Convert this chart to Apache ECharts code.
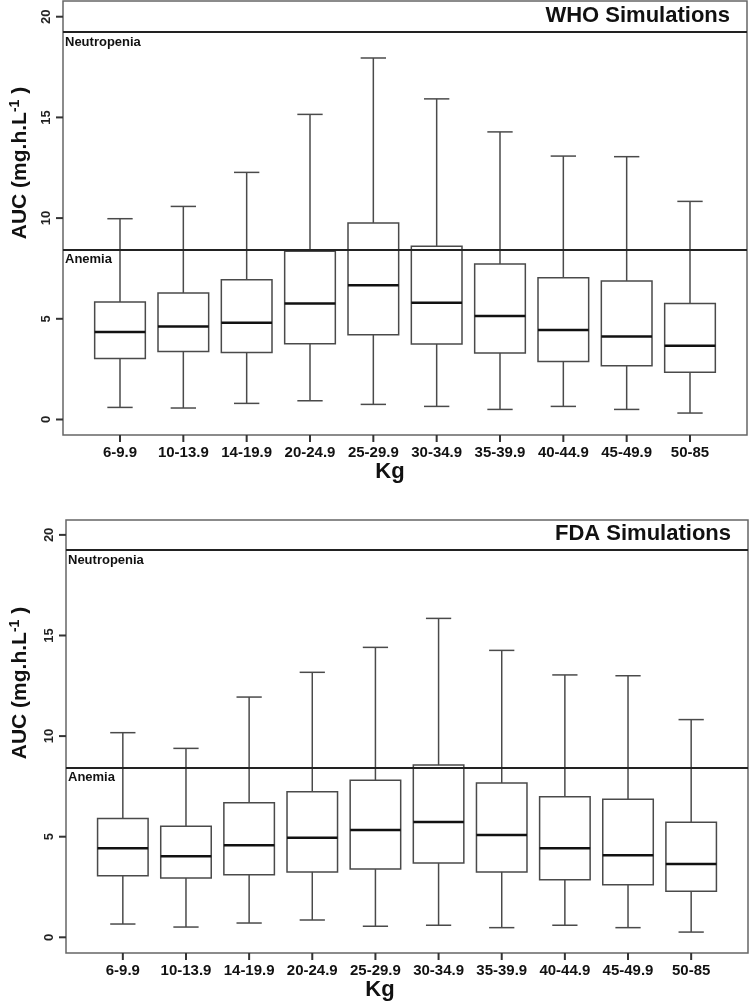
<!DOCTYPE html>
<html>
<head>
<meta charset="utf-8">
<script src="https://cdn.jsdelivr.net/npm/echarts@6/dist/echarts.min.js"></script>
<style>
html,body{margin:0;padding:0;background:#fff;}
#chart{width:750px;height:1006px;}
</style>
</head>
<body>
<div id="chart"></div>
<script>
// ---- Data ----
const categories = ['6-9.9','10-13.9','14-19.9','20-24.9','25-29.9','30-34.9','35-39.9','40-44.9','45-49.9','50-85'];
const yTicks = [0, 5, 10, 15, 20];

const whoMin = [0.60, 0.57, 0.80, 0.93, 0.75, 0.65, 0.50, 0.65, 0.50, 0.32];
const whoQ1  = [3.03, 3.38, 3.33, 3.76, 4.21, 3.75, 3.30, 2.88, 2.67, 2.35];
const whoMed = [4.34, 4.62, 4.80, 5.76, 6.66, 5.80, 5.14, 4.44, 4.12, 3.66];
const whoQ3  = [5.83, 6.28, 6.94, 8.35, 9.76, 8.60, 7.72, 7.04, 6.88, 5.76];
const whoMax = [9.97, 10.58, 12.27, 15.15, 17.95, 15.92, 14.28, 13.08, 13.05, 10.83];

const fdaMin = [0.66, 0.51, 0.71, 0.86, 0.55, 0.60, 0.48, 0.60, 0.48, 0.26];
const fdaQ1  = [3.06, 2.95, 3.11, 3.25, 3.39, 3.69, 3.25, 2.86, 2.61, 2.29];
const fdaMed = [4.42, 4.03, 4.57, 4.95, 5.33, 5.73, 5.08, 4.42, 4.08, 3.64];
const fdaQ3  = [5.91, 5.52, 6.69, 7.24, 7.80, 8.56, 7.67, 6.99, 6.86, 5.72];
const fdaMax = [10.17, 9.39, 11.94, 13.17, 14.41, 15.85, 14.26, 13.04, 13.00, 10.82];

const neutropeniaLevel = 19.25;
const anemiaLevel = 8.45;

// ---- Build ----
const FONT = 'Liberation Sans, Arial, sans-serif';
const positions = categories.map((c, i) => i + 1);
const TICK_LEN = 7;
const yMinTop = -0.77, yMaxTop = 20.78, yMinBot = -0.78, yMaxBot = 20.74;
const xMin = 0.1, xMax = 10.9;

function rows(mn, q1, md, q3, mx) {
  return positions.map((p, i) => [p, mn[i], q1[i], md[i], q3[i], mx[i]]);
}

function renderBox(params, api) {
  const x = api.value(0);
  const pMin = api.coord([x, api.value(1)]);
  const pQ1 = api.coord([x, api.value(2)]);
  const pMed = api.coord([x, api.value(3)]);
  const pQ3 = api.coord([x, api.value(4)]);
  const pMax = api.coord([x, api.value(5)]);
  const w = api.size([0.8, 0])[0];
  const cw = w / 4;
  const cx = pMin[0];
  const st = { stroke: '#4a4a4a', lineWidth: 1.5, fill: null };
  return {
    type: 'group',
    children: [
      { type: 'line', shape: { x1: cx, y1: pMin[1], x2: cx, y2: pQ1[1] }, style: st },
      { type: 'line', shape: { x1: cx, y1: pQ3[1], x2: cx, y2: pMax[1] }, style: st },
      { type: 'line', shape: { x1: cx - cw, y1: pMin[1], x2: cx + cw, y2: pMin[1] }, style: st },
      { type: 'line', shape: { x1: cx - cw, y1: pMax[1], x2: cx + cw, y2: pMax[1] }, style: st },
      { type: 'rect', shape: { x: cx - w / 2, y: pQ3[1], width: w, height: pQ1[1] - pQ3[1] }, style: { stroke: '#4a4a4a', lineWidth: 1.5, fill: null } },
      { type: 'line', shape: { x1: cx - w / 2, y1: pMed[1], x2: cx + w / 2, y2: pMed[1] }, style: { stroke: '#111', lineWidth: 2.5 } }
    ]
  };
}

function xAxisCfg(gi) {
  return {
    gridIndex: gi, type: 'value', min: xMin, max: xMax, position: 'bottom',
    axisLine: { show: false, onZero: false }, splitLine: { show: false },
    axisTick: { show: false },
    axisLabel: {
      customValues: positions, margin: 10,
      formatter: v => categories[Math.round(v) - 1] || '',
      fontFamily: FONT, fontWeight: 'bold', fontSize: 15, color: '#111'
    }
  };
}
function yAxisCfg(gi, mn, mx) {
  return {
    gridIndex: gi, type: 'value', min: mn, max: mx, position: 'left',
    axisLine: { show: false, onZero: false }, splitLine: { show: false },
    axisTick: { show: false },
    axisLabel: {
      customValues: yTicks, rotate: 90, margin: 10,
      fontFamily: FONT, fontWeight: 'bold', fontSize: 13, color: '#222'
    }
  };
}
function seriesCfg(gi, data) {
  return {
    type: 'custom', xAxisIndex: gi, yAxisIndex: gi,
    renderItem: renderBox, data: data,
    encode: { x: 0, y: [1, 2, 3, 4, 5] },
    silent: true,
    markLine: {
      silent: true, symbol: 'none', animation: false, z: 10,
      lineStyle: { color: '#222', width: 2, type: 'solid' },
      label: {
        show: true, position: 'insideStartBottom', formatter: '{b}', distance: [2, 4],
        fontFamily: FONT, fontWeight: 'bold', fontSize: 13, color: '#111'
      },
      data: [
        { name: 'Neutropenia', yAxis: neutropeniaLevel },
        { name: 'Anemia', yAxis: anemiaLevel }
      ]
    }
  };
}

function yTitle(cx, cy) {
  return {
    type: 'text', x: cx, y: cy, rotation: Math.PI / 2,
    style: {
      text: '{m|AUC (mg.h.L}{s|-1}{m| )}',
      align: 'center', verticalAlign: 'middle',
      rich: {
        m: { fontFamily: FONT, fontWeight: 'bold', fontSize: 21, fill: '#111' },
        s: { fontFamily: FONT, fontWeight: 'bold', fontSize: 14, fill: '#111', padding: [0, 0, 10, 0] }
      }
    }
  };
}
function textAt(str, x, y, size, align) {
  return {
    type: 'text', x: x, y: y,
    style: { text: str, align: align, verticalAlign: 'middle', fontFamily: FONT, fontWeight: 'bold', fontSize: size, fill: '#111' }
  };
}

const baseGraphics = [
  yTitle(20, 163),
  yTitle(20, 683),
  textAt('WHO Simulations', 730, 16, 22, 'right'),
  textAt('FDA Simulations', 731, 534, 22, 'right'),
  textAt('Kg', 390, 472, 22, 'center'),
  textAt('Kg', 380, 990, 22, 'center')
];

const chart = echarts.init(document.getElementById('chart'), null, { renderer: 'canvas' });
chart.setOption({
  animation: false,
  backgroundColor: '#fff',
  grid: [
    { left: 63, top: 1, width: 684, height: 434, show: true, borderColor: '#666', borderWidth: 1.5, backgroundColor: 'transparent' },
    { left: 66, top: 520, width: 682, height: 433, show: true, borderColor: '#666', borderWidth: 1.5, backgroundColor: 'transparent' }
  ],
  xAxis: [xAxisCfg(0), xAxisCfg(1)],
  yAxis: [yAxisCfg(0, yMinTop, yMaxTop), yAxisCfg(1, yMinBot, yMaxBot)],
  series: [
    seriesCfg(0, rows(whoMin, whoQ1, whoMed, whoQ3, whoMax)),
    seriesCfg(1, rows(fdaMin, fdaQ1, fdaMed, fdaQ3, fdaMax))
  ],
  graphic: baseGraphics
});

// Axis tick marks, positioned through the chart's own scales
const tickGraphics = [];
[[0, yMinTop], [1, yMinBot]].forEach(([gi, yMin]) => {
  positions.forEach(p => {
    const pt = chart.convertToPixel({ gridIndex: gi }, [p, yMin]);
    if (pt && isFinite(pt[0]) && isFinite(pt[1])) {
      tickGraphics.push({ type: 'rect', zlevel: 1, z: 100, silent: true,
        shape: { x: pt[0] - 1, y: pt[1], width: 2, height: TICK_LEN }, style: { fill: '#333' } });
    }
  });
  yTicks.forEach(v => {
    const pt = chart.convertToPixel({ gridIndex: gi }, [xMin, v]);
    if (pt && isFinite(pt[0]) && isFinite(pt[1])) {
      tickGraphics.push({ type: 'rect', zlevel: 1, z: 100, silent: true,
        shape: { x: pt[0] - TICK_LEN, y: pt[1] - 1, width: TICK_LEN, height: 2 }, style: { fill: '#333' } });
    }
  });
});
chart.setOption({ graphic: baseGraphics.concat(tickGraphics) });
</script>
</body>
</html>
